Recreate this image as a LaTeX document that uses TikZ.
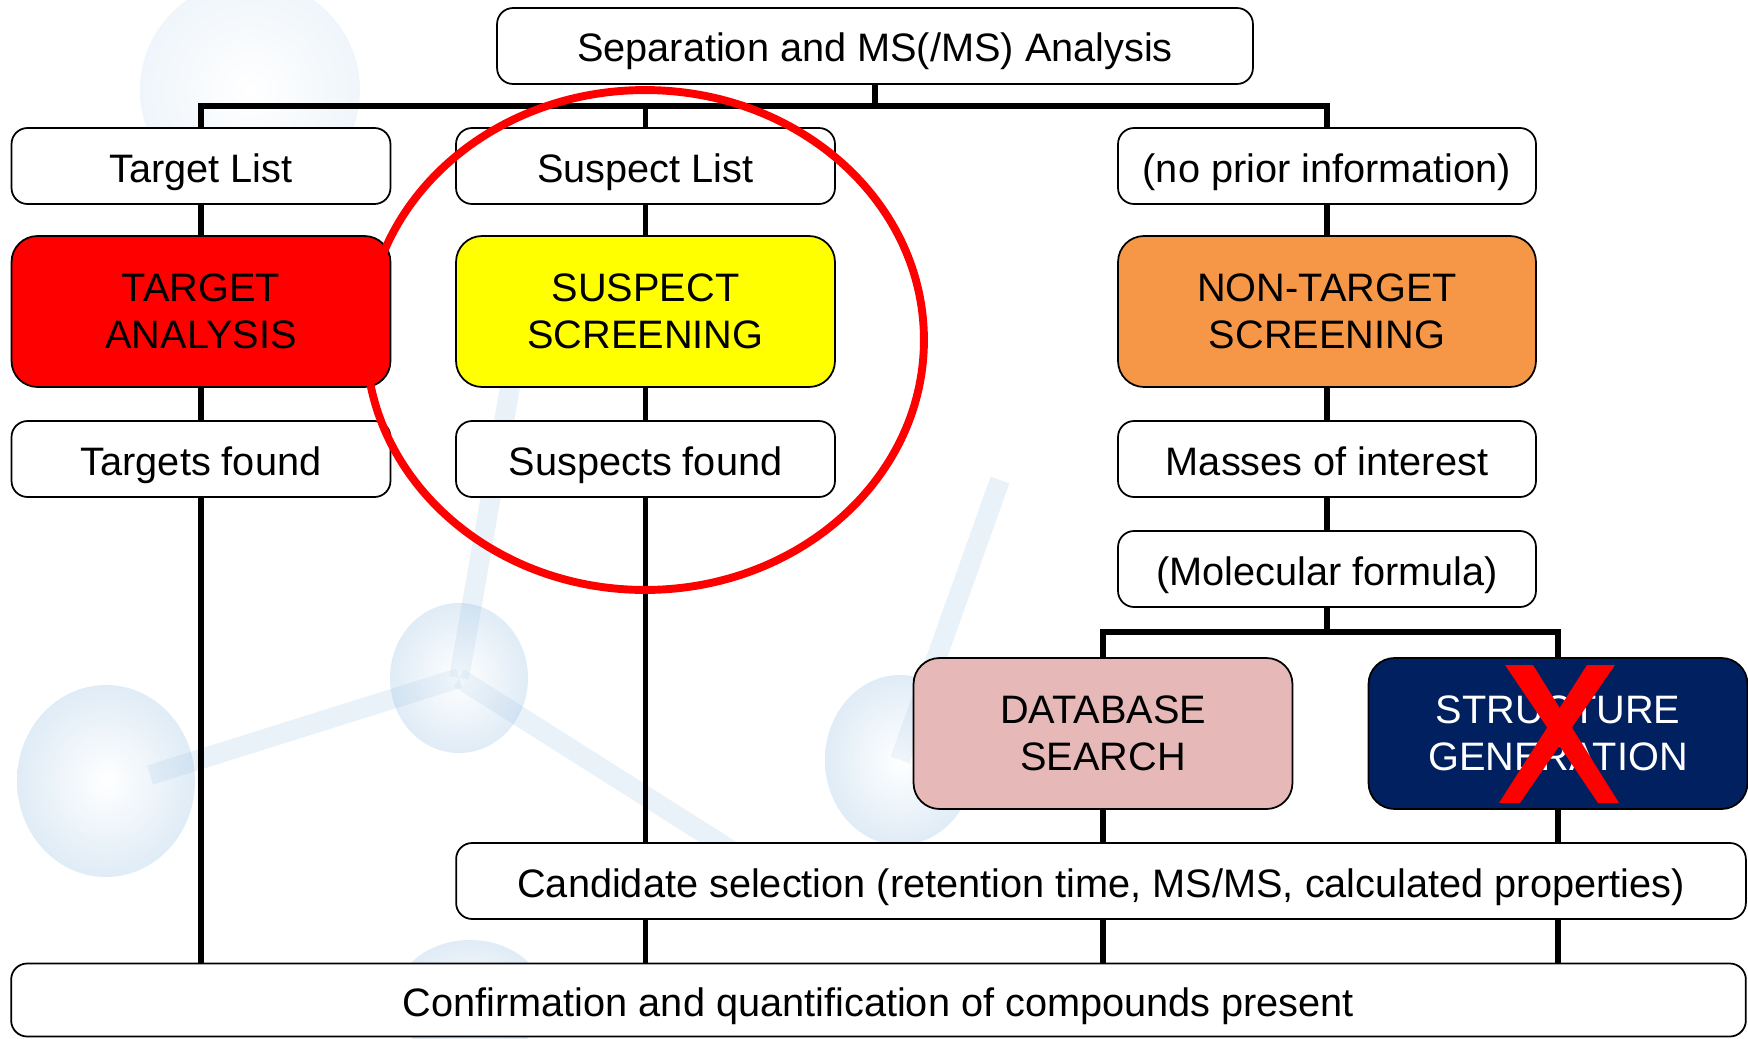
\documentclass[tikz,border=0pt]{standalone}
\usepackage{fontspec}
\setmainfont{Liberation Sans}
\usepackage{tikz}
\newcommand{\linkWidth}[0]{2.9pt}
\newcommand{\boxWidth}[0]{7.58cm}
\newcommand{\wideWidth}[0]{8.36cm}
\newcommand{\moleculeOpacity}[0]{0.3}
\newcommand{\boxFont}[0]{\fontsize{22.6}{27}\selectfont}
\definecolor{targetRed}{RGB}{255,0,0}
\definecolor{suspectYellow}{RGB}{255,255,0}
\definecolor{nontargetOrange}{RGB}{246,151,72}
\definecolor{databasePink}{RGB}{230,184,183}
\definecolor{structureNavy}{RGB}{0,32,96}
\definecolor{moleculeBlue}{RGB}{150,190,225}

\begin{document}
\begin{tikzpicture}[x=0.02cm, y=-0.02cm]
  \tikzset{
    infobox/.style={draw=black, line width=1pt, rounded corners=0.32cm, fill=white, align=center,
      font=\boxFont, inner sep=0pt, minimum height=1.52cm, text height=0.64cm, text depth=0pt},
    stepbox/.style={draw=black, line width=1pt, rounded corners=0.52cm, align=center,
      font=\boxFont, inner sep=0pt, minimum height=3.02cm, minimum width=\boxWidth},
    link/.style={line width=\linkWidth},
    atom/.style={inner color=white, outer color=moleculeBlue, opacity=\moleculeOpacity},
    bond/.style={moleculeBlue, opacity=0.2, line width=0.4cm}
  }
  \useasboundingbox (0,0) rectangle (1748,1038);
  \draw[bond] (459,678) -- (150,775);
  \draw[bond] (459,678) -- (520,330);
  \draw[bond] (459,678) -- (770,875);
  \draw[bond] (900,760) -- (1000,480);
  \shade[atom] (459,678) ellipse [x radius=1.38cm, y radius=1.5cm];
  \shade[atom] (106,781) ellipse [x radius=1.78cm, y radius=1.92cm];
  \shade[atom] (900,760) ellipse [x radius=1.5cm, y radius=1.7cm];
  \shade[atom] (470,1000) ellipse [x radius=1.5cm, y radius=1.2cm];
  \shade[atom, opacity=0.15] (250,90) ellipse [x radius=2.2cm, y radius=2.2cm];

  \node[infobox, minimum width=15.12cm] (sep) at (875,46) {Separation and MS(/MS) Analysis};
  \node[infobox, minimum width=\boxWidth] (tlist) at (201,166) {Target List};
  \node[infobox, minimum width=\boxWidth] (slist) at (645.5,166) {Suspect List};
  \node[infobox, minimum width=\wideWidth] (nolist) at (1327,166) {(no prior information)};
  \node[stepbox, fill=targetRed] (target) at (201,311.5) {TARGET\\ANALYSIS};
  \node[stepbox, fill=suspectYellow] (suspect) at (645.5,311.5) {SUSPECT\\SCREENING};
  \node[stepbox, fill=nontargetOrange, minimum width=\wideWidth] (nontarget) at (1327,311.5) {NON-TARGET\\SCREENING};
  \node[infobox, minimum width=\boxWidth] (tfound) at (201,459) {Targets found};
  \node[infobox, minimum width=\boxWidth] (sfound) at (645.5,459) {Suspects found};
  \node[infobox, minimum width=\wideWidth] (masses) at (1327,459) {Masses of interest};
  \node[infobox, minimum width=\wideWidth] (formula) at (1327,569) {(Molecular formula)};
  \node[stepbox, fill=databasePink] (database) at (1103,733.5) {DATABASE\\SEARCH};
  \node[stepbox, fill=structureNavy, text=white] (structure) at (1558,733.5) {STRUCTURE\\GENERATION};
  \node[infobox, minimum width=25.8cm] (candidate) at (1101,881) {Candidate selection (retention time, MS/MS, calculated properties)};
  \node[infobox, minimum width=34.7cm, minimum height=1.46cm] (confirm) at (878.5,1000) {Confirmation and quantification of compounds present};

  \coordinate (topbus) at (0,106);
  \coordinate (formulabus) at (0,632);
  \draw[link] (sep.south) -- (sep.south |- topbus);
  \draw[link] (tlist.north) -- (tlist.north |- topbus) -| (nolist.north);
  \draw[link] (slist.north) -- (slist.north |- topbus);
  \draw[link] (tlist) -- (target) -- (tfound);
  \draw[link] (slist) -- (suspect) -- (sfound);
  \draw[link] (nolist) -- (nontarget) -- (masses) -- (formula);
  \draw[link] (formula.south) -- (formula.south |- formulabus);
  \draw[link] (database.north) -- (database.north |- formulabus) -| (structure.north);
  \draw[link] (database.south) -- (database.south |- candidate.north);
  \draw[link] (structure.south) -- (structure.south |- candidate.north);
  \draw[link] (tfound.south) -- (tfound.south |- confirm.north);
  \draw[link] (sfound.south) -- (sfound.south |- candidate.north);
  \draw[link] (sfound.south |- candidate.south) -- (sfound.south |- confirm.north);
  \draw[link] (database.south |- candidate.south) -- (database.south |- confirm.north);
  \draw[link] (structure.south |- candidate.south) -- (structure.south |- confirm.north);

  \draw[red, line width=4.5pt] (645,340) ellipse [x radius=5.58cm, y radius=5cm];
  \fill[red] (1505,665) -- (1533,665) -- (1619,803) -- (1598,803) -- cycle;
  \fill[red] (1587,665) -- (1615,665) -- (1520,803) -- (1499,803) -- cycle;
\end{tikzpicture}
\end{document}
